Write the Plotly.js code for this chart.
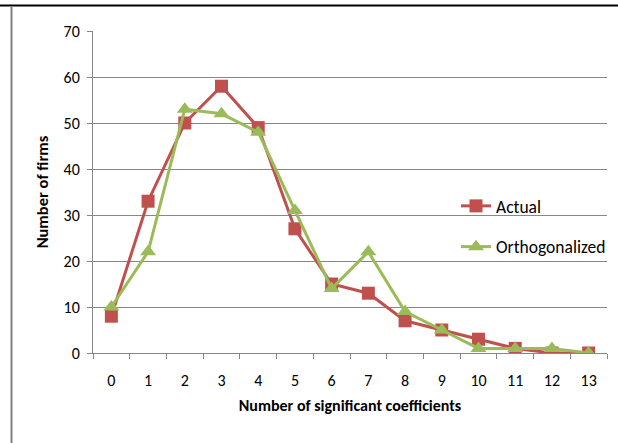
<!DOCTYPE html>
<html><head><meta charset="utf-8">
<script src="https://cdn.plot.ly/plotly-3.0.1.min.js"></script>
<style>html,body{margin:0;padding:0;background:#fff}#c{width:618px;height:443px}</style>
</head><body><div id="c"></div>
<script>
const categories = ["0","1","2","3","4","5","6","7","8","9","10","11","12","13"];
const actual = [8,33,50,58,49,27,15,13,7,5,3,1,0,0];
const orthogonalized = [10,22,53,52,48,31,14,22,9,5,1,1,1,0];
const yTicks = [0,10,20,30,40,50,60,70];

const L=93, R=607, T=31, B=353;
const px = x => (x - L)/(R - L);
const py = y => (B - y)/(B - T);
const font = 'Carlito, Calibri, Lato, "Open Sans", sans-serif';

const traces = [
  {x: categories, y: actual, name: 'Actual', legendgroup: 'a', type: 'scatter', mode: 'lines+markers',
   line: {color: '#C0504D', width: 3}, marker: {symbol: 'square', size: 13, color: '#C0504D'}},
  {x: categories, y: orthogonalized, name: 'Orthogonalized', legendgroup: 'b', type: 'scatter', mode: 'lines+markers',
   line: {color: '#9BBB59', width: 3}, marker: {symbol: 'triangle-up', size: 14, color: '#9BBB59'}}
];

const layout = {
  width: 618, height: 443,
  margin: {l: L, r: 618 - R, t: T, b: 443 - B, pad: 0, autoexpand: false},
  paper_bgcolor: '#fff', plot_bgcolor: '#fff',
  font: {family: font, size: 16, color: '#000'},
  showlegend: true,
  legend: {x: px(456), y: py(188), xanchor: 'left', yanchor: 'top', bgcolor: 'rgba(0,0,0,0)',
           font: {size: 17.5, family: font}, tracegroupgap: 15, itemwidth: 30},
  xaxis: {type: 'category', range: [-0.5, 13.5], tickson: 'boundaries', ticks: 'outside', ticklen: 5,
          tickcolor: '#878787', showline: true, linecolor: '#878787', linewidth: 1, showgrid: false,
          zeroline: false, tickfont: {size: 16, family: font}, ticklabelstandoff: 13, automargin: false,
          title: {text: '<b>Number of significant coefficients</b>', font: {size: 16, family: font}, standoff: 10}},
  yaxis: {range: [0, 70], tickvals: yTicks, ticks: 'outside', ticklen: 5, tickcolor: '#878787',
          showline: true, linecolor: '#878787', linewidth: 1, showgrid: true, gridcolor: '#878787', gridwidth: 1,
          zeroline: false, tickfont: {size: 16, family: font}, ticklabelstandoff: 4, automargin: false,
          title: {text: '<b>Number of firms</b>', font: {size: 16.5, family: font}, standoff: 10}},
  shapes: [
    {type: 'line', xref: 'paper', yref: 'paper', x0: px(0), x1: px(618), y0: py(5.5), y1: py(5.5),
     line: {color: '#000', width: 2}},
    {type: 'line', xref: 'paper', yref: 'paper', x0: px(11.5), x1: px(11.5), y0: py(7), y1: py(443),
     line: {color: '#7f7f7f', width: 2}}
  ]
};
Plotly.newPlot('c', traces, layout, {displayModeBar: false, staticPlot: true});
</script></body></html>
